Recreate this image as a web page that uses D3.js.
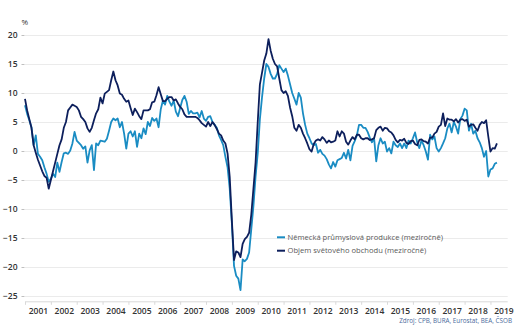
<!DOCTYPE html>
<meta charset="utf-8">
<style>
body { margin: 0; background: #fff; }
text { font-family: "Open Sans", "Noto Sans", sans-serif; }
.grid line { stroke: #ebebeb; }
.grid path { display: none; }
.axis--y path { display: none; }
.axis--y line { stroke: #bfbfbf; }
.axis--x path, .axis--x line { stroke: #d9d9d9; }
.line { fill: none; stroke-width: 1.8px; stroke-linejoin: round; }
</style>
<svg width="520" height="336"></svg>
<script src="https://cdn.jsdelivr.net/npm/d3@7"></script>
<script>
// tick labels
var years = ["2001","2002","2003","2004","2005","2006","2007","2008","2009","2010",
             "2011","2012","2013","2014","2015","2016","2017","2018","2019"];
var yTicks = [20, 15, 10, 5, 0, -5, -10, -15, -20, -25];
var seriesNames = ["Německá průmyslová produkce (meziročně)", "Objem světového obchodu (meziročně)"];

// monthly values from Jan 2001 to Apr 2019, % yoy
var germanIP = [
  7.9, 6.4, 5.3, 4.1, 1.0, 2.7, -0.5, -1.0, -1.6, -2.8, -3.9, -5.3,
  -4.8, -3.9, -4.5, -2.0, -3.6, -1.9, -0.4, -0.3, -0.5, 0.1, 1.3, 3.3,
  1.8, 1.4, 1.0, 0.4, 0.8, -2.0, 0.1, 1.0, -3.3, 1.3, 1.0, 1.8,
  1.7, 1.6, 2.1, 3.5, 5.0, 5.6, 5.3, 5.6, 4.1, 5.0, 3.0, 0.4,
  3.0, 3.4, 2.5, 3.4, 0.7, 3.0, 2.2, 3.9, 2.9, 5.0, 4.3, 5.7,
  5.2, 5.6, 4.1, 7.2, 8.7, 8.0, 9.5, 8.5, 7.8, 8.7, 6.8, 6.0,
  7.4, 8.8, 9.5, 8.5, 6.4, 6.9, 6.5, 6.5, 6.6, 5.8, 6.9, 5.6,
  5.2, 5.9, 6.0, 5.0, 4.5, 4.0, 2.7, 1.9, 1.0, -1.0, -2.8, -6.5,
  -12.5, -19.8, -21.5, -22.0, -24.0, -18.7, -19.0, -18.6, -17.5, -13.5, -9.5, -4.4,
  -0.4, 5.5, 9.3, 12.5, 15.0, 14.5, 13.3, 12.5, 12.5, 13.3, 14.8, 14.2,
  13.6, 14.2, 13.0, 11.5, 10.0, 9.0, 8.0, 10.0, 9.2, 6.5, 4.5, 3.0,
  2.2, 1.3, 1.0, 1.2, -0.3, 0.2, -0.5, -0.8, -1.4, -2.3, -3.0, -1.9,
  -2.7, -1.6, -1.4, -1.2, -0.3, -1.3, 0.2, -1.6, 0.9, 1.7, 2.7, 4.5,
  4.5, 4.0, 4.0, 3.3, 2.3, 1.5, 2.2, -1.8, 1.0, 2.2, 1.3, 1.6,
  -0.1, 0.5, -0.4, 1.6, 1.0, 0.7, 1.3, 0.5, 1.3, 0.5, 1.8, 1.3,
  2.2, 3.2, 1.5, 0.5, 1.8, 1.0, -0.1, -1.5, 2.8, 2.0, 2.5, 0.5,
  -0.1, 0.5, 1.3, 2.2, 3.9, 4.7, 3.2, 5.0, 4.2, 3.0, 5.5, 6.1,
  7.3, 7.0, 3.5, 4.7, 3.0, 3.5, 2.2, 1.5, 0.5, -1.0, 0.0, -4.4,
  -3.2, -3.0, -2.2, -2.0
];
var worldTrade = [
  9.0, 7.0, 5.5, 4.0, 1.0, -0.3, -1.5, -2.5, -3.5, -4.3, -4.6, -6.5,
  -5.0, -3.5, -2.0, -0.5, 1.0, 2.0, 4.0, 5.0, 7.0, 7.5, 8.0, 7.8,
  7.6, 7.0, 5.9, 5.5, 5.0, 3.9, 3.3, 4.0, 5.3, 6.5, 7.2, 9.2,
  8.2, 9.9, 10.2, 10.5, 12.2, 13.7, 12.2, 11.3, 9.9, 9.7, 9.0, 8.5,
  8.7, 7.4, 6.2, 7.3, 6.7, 6.0, 5.5, 7.0, 7.0, 7.0, 7.2, 8.4,
  8.5, 9.6, 11.0, 9.8, 8.6, 8.6, 9.0, 9.3, 9.3, 8.7, 8.9, 8.2,
  7.6, 7.2, 6.3, 5.9, 5.9, 5.9, 5.9, 5.9, 5.7, 5.3, 4.8, 4.5,
  4.2, 5.0, 4.3, 5.0, 4.5, 3.8, 3.0, 2.7, 1.8, 1.3, -0.4, -4.5,
  -12.0, -18.8, -17.3, -17.5, -18.3, -16.0, -15.2, -14.8, -14.1, -11.0, -6.5, -2.0,
  5.0, 11.5, 13.5, 15.6, 16.8, 19.3, 17.3, 15.9, 15.0, 14.6, 12.5, 10.5,
  10.0, 10.3, 9.5, 7.5, 6.0, 4.0, 3.5, 4.5, 4.0, 3.0, 2.2, 1.3,
  0.3, -0.1, 1.2, 1.8, 2.0, 1.8, 2.4, 2.0, 1.4, 1.8, 1.5, 1.6,
  1.8, 3.4, 2.5, 3.4, 3.0, 1.6, 1.1, 1.8, 2.4, 2.0, 2.8, 2.8,
  2.2, 2.0, 2.2, 2.2, 1.9, 2.0, 2.2, 3.6, 4.0, 4.2, 3.5, 4.0,
  3.9, 3.4, 3.2, 2.7, 1.9, 1.5, 1.9, 1.8, 2.1, 1.4, 1.2, 1.7,
  1.8, 1.2, 1.0, 1.9, 2.0, 1.7, 1.6, 1.3, 2.3, 2.3, 3.0, 3.3,
  4.2, 4.5, 6.5, 4.3, 5.6, 5.4, 5.4, 5.1, 5.5, 4.9, 5.4, 5.5,
  5.2, 5.4, 4.2, 4.5, 4.6, 4.0, 3.5, 4.5, 5.0, 4.8, 5.3, 2.5,
  -0.1, 0.5, 0.4, 1.3
];
var colors = ["#1a8cc3", "#0d1f5c"];

var svg = d3.select("svg"),
    plotLeft = 25, plotRight = 507.7, plotTop = 29.2, plotBottom = 301.8;

var x = d3.scaleLinear().domain([0, 224]).range([plotLeft, plotRight]),
    y = d3.scaleLinear().domain([-26, 21]).range([plotBottom, plotTop]);

// gridlines
svg.append("g")
    .attr("class", "grid")
    .attr("transform", "translate(" + plotLeft + ",0)")
    .call(d3.axisLeft(y).tickValues(yTicks).tickSize(-(plotRight - plotLeft)).tickFormat(""));

// y axis
svg.append("g")
    .attr("class", "axis axis--y")
    .attr("transform", "translate(" + (plotLeft - 0.5) + ",0)")
    .call(d3.axisLeft(y).tickValues(yTicks).tickSize(3).tickPadding(4))
    .selectAll("text")
    .style("font-size", "8.5px")
    .style("font-weight", "600")
    .attr("fill", "#333");

svg.append("text")
    .attr("x", 21.5)
    .attr("y", 25)
    .style("font-size", "8px")
    .attr("fill", "#333")
    .text("%");

// x axis: year boundary ticks
svg.append("g")
    .attr("class", "axis axis--x")
    .attr("transform", "translate(0," + plotBottom + ")")
    .call(d3.axisBottom(x).tickValues(d3.range(0, 224, 12)).tickSize(3).tickFormat(""))
    .select(".domain").attr("d", "M" + plotLeft + ",0H" + plotRight);

// x axis: year labels in the middle of each year
var xl = svg.append("g")
    .attr("transform", "translate(0," + plotBottom + ")")
    .call(d3.axisBottom(x)
      .tickValues(years.map(function(d, i) { return i * 12 + 6; }))
      .tickSize(0).tickPadding(6)
      .tickFormat(function(d, i) { return years[i]; }));
xl.select(".domain").remove();
xl.selectAll("text")
    .style("font-size", "8.5px")
    .style("font-weight", "600")
    .attr("fill", "#333");

var line = d3.line()
    .x(function(d, i) { return x(i); })
    .y(function(d) { return y(d); });

svg.append("path")
    .datum(germanIP)
    .attr("class", "line")
    .style("stroke", colors[0])
    .attr("d", line);

svg.append("path")
    .datum(worldTrade)
    .attr("class", "line")
    .style("stroke", colors[1])
    .attr("d", line);

// legend
var legend = svg.append("g")
    .selectAll("g")
    .data(seriesNames)
    .enter().append("g")
    .attr("transform", function(d, i) { return "translate(277," + (237.3 + i * 13.4) + ")"; });

legend.append("line")
    .attr("x1", 0).attr("x2", 8)
    .style("stroke", function(d, i) { return colors[i]; })
    .style("stroke-width", 2);

legend.append("text")
    .attr("x", 10.5)
    .attr("dy", "0.35em")
    .style("font-size", "7.6px")
    .attr("fill", "#595959")
    .text(function(d) { return d; });

// source
svg.append("text")
    .attr("x", 512)
    .attr("y", 323)
    .attr("text-anchor", "end")
    .style("font-size", "6.3px")
    .attr("fill", "#4a6a9c")
    .text("Zdroj: CPB, BURA, Eurostat, BEA, ČSOB");
</script>
